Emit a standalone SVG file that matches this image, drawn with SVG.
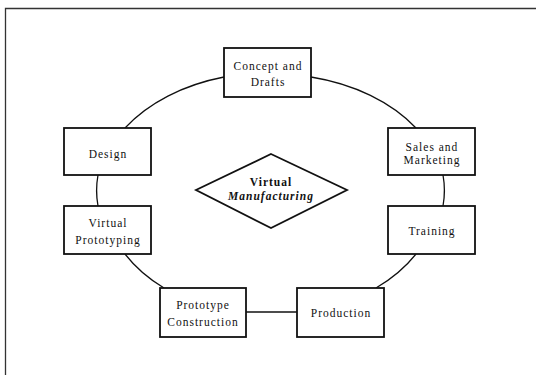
<svg xmlns="http://www.w3.org/2000/svg" width="536" height="375" viewBox="0 0 536 375">
<style>
.box{fill:#fff;stroke:#111;stroke-width:1.8}
.con{fill:none;stroke:#111;stroke-width:1.3}
.frame{fill:none;stroke:#333;stroke-width:1.3}
text{font-family:"Liberation Serif","Times New Roman",serif;font-size:11.5px;fill:#111;text-anchor:middle;letter-spacing:1px}
.b{font-weight:bold}
.bi{font-weight:bold;font-style:italic}
</style>
<rect width="536" height="375" fill="#fff"/>
<path class="frame" d="M5.5 375 V8.5 H536"/>
<g id="connectors">
<path class="con" d="M311 77 A172.5 122 0 0 1 416 128"/>
<path class="con" d="M443 175 A172.5 122 0 0 1 443 206"/>
<path class="con" d="M416 254 A172.5 122 0 0 1 376 288"/>
<path class="con" d="M297 312 H246"/>
<path class="con" d="M164 288 A172.5 122 0 0 1 125 254"/>
<path class="con" d="M98 206 A172.5 122 0 0 1 98 175"/>
<path class="con" d="M125 128 A172.5 122 0 0 1 224 77"/>
</g>
<g id="concept"><rect class="box" x="224" y="48" width="87" height="49"/><text x="268" y="70">Concept and</text><text x="268" y="86">Drafts</text></g>
<g id="design"><rect class="box" x="64" y="128" width="87" height="47"/><text x="108" y="158">Design</text></g>
<g id="sales"><rect class="box" x="388" y="128" width="87" height="47"/><text x="432" y="151">Sales and</text><text x="432" y="164">Marketing</text></g>
<g id="virtual-prototyping"><rect class="box" x="64" y="206" width="87" height="48"/><text x="108" y="227">Virtual</text><text x="108" y="244">Prototyping</text></g>
<g id="training"><rect class="box" x="388" y="206" width="87" height="48"/><text x="432" y="235">Training</text></g>
<g id="prototype-construction"><rect class="box" x="160" y="288" width="86" height="49"/><text x="203" y="309">Prototype</text><text x="203" y="326">Construction</text></g>
<g id="production"><rect class="box" x="297" y="288" width="87" height="49"/><text x="341" y="317">Production</text></g>
<g id="virtual-manufacturing"><polygon class="box" points="271,154 347,190 271,228 196,190"/><text class="b" x="271" y="186">Virtual</text><text class="bi" x="271" y="200">Manufacturing</text></g>
</svg>
